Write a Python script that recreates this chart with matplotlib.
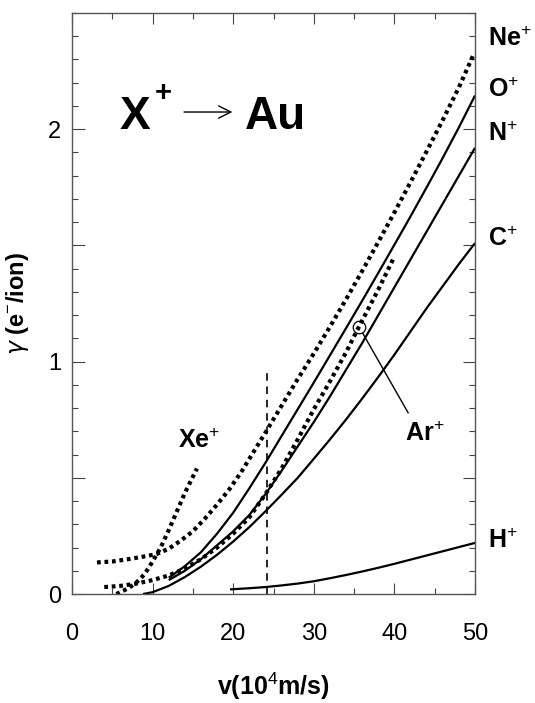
import numpy as np
import matplotlib.pyplot as plt
from matplotlib.ticker import MultipleLocator

plt.rcParams['font.family'] = ['Liberation Sans', 'DejaVu Sans']
plt.rcParams['mathtext.fontset'] = 'custom'
plt.rcParams['mathtext.rm'] = 'Liberation Sans'
plt.rcParams['mathtext.bf'] = 'Liberation Sans:bold'

# solid curves
h_x = [19.6, 22, 24, 26, 28, 30, 32, 34, 36, 38, 40, 42, 44, 46, 48, 50]
h_y = [0.02, 0.025, 0.03, 0.037, 0.045, 0.055, 0.068, 0.082, 0.097, 0.113,
       0.13, 0.148, 0.166, 0.184, 0.202, 0.22]

c_x = [8.8, 10, 12, 14, 16, 18, 20, 22, 24, 26, 28, 30, 32, 34, 36, 38, 40, 42, 44, 46, 48, 50]
c_y = [0.0, 0.008, 0.035, 0.073, 0.118, 0.169, 0.226, 0.288, 0.356, 0.427, 0.50, 0.582,
       0.665, 0.751, 0.841, 0.934, 1.03, 1.13, 1.23, 1.325, 1.42, 1.51]

n_x = [12, 14, 16, 18, 20, 22, 24, 26, 28, 30, 32, 34, 36, 38, 40, 42, 44, 46, 48, 50]
n_y = [0.06, 0.10, 0.15, 0.21, 0.27, 0.34, 0.43, 0.53, 0.635, 0.74, 0.85, 0.965,
       1.08, 1.20, 1.32, 1.44, 1.56, 1.68, 1.80, 1.92]

o_x = [12, 14, 16, 18, 20, 22, 24, 26, 28, 30, 32, 34, 36, 38, 40, 42, 44, 46, 48, 50]
o_y = [0.07, 0.12, 0.18, 0.26, 0.35, 0.455, 0.565, 0.68, 0.795, 0.91, 1.027, 1.144,
       1.262, 1.382, 1.503, 1.625, 1.75, 1.877, 2.008, 2.145]

# dotted curves
ne_x = [3.1, 5, 7, 9, 10.5, 12, 13.5, 15, 16.5, 18, 19.5, 21, 22.5, 24, 26, 28, 30,
        32, 34, 36, 38, 40, 42, 44, 46, 48, 49.8]
ne_y = [0.136, 0.14, 0.15, 0.162, 0.172, 0.195, 0.23, 0.27, 0.325, 0.385, 0.45, 0.525,
        0.61, 0.695, 0.81, 0.925, 1.035, 1.15, 1.268, 1.39, 1.515, 1.642, 1.772, 1.905,
        2.04, 2.18, 2.32]

ar_x = [4, 6, 8, 10, 12, 14, 16, 18, 20, 22, 24, 26, 28, 30, 32, 34, 35.6, 38, 39.9]
ar_y = [0.03, 0.035, 0.045, 0.06, 0.08, 0.11, 0.15, 0.20, 0.26, 0.33, 0.43, 0.54,
        0.665, 0.795, 0.915, 1.04, 1.15, 1.31, 1.445]

xe_x = [5.5, 7, 8, 9, 10, 11, 12, 13, 14, 15, 15.5]
xe_y = [0.0, 0.025, 0.05, 0.085, 0.14, 0.20, 0.275, 0.355, 0.435, 0.505, 0.54]

# right-hand labels: (text, y)
right_labels = [('Ne$^{+}$', 2.39), ('O$^{+}$', 2.17), ('N$^{+}$', 1.98),
                ('C$^{+}$', 1.53), ('H$^{+}$', 0.23)]

vline_x = 24.2
vline_top = 0.96
ar_mark = (35.6, 1.15)

fig = plt.figure(figsize=(5.35, 7.03), dpi=100)
ax = fig.add_axes([0.1346, 0.1550, 0.7533, 0.8265])

solid = dict(color='black', lw=1.6, solid_capstyle='butt')
dots = dict(color='black', lw=3.0, linestyle=(0, (0.9, 0.9)), dash_capstyle='butt')

for xs, ys in [(h_x, h_y), (c_x, c_y), (n_x, n_y), (o_x, o_y)]:
    ax.plot(xs, ys, **solid)
for xs, ys in [(ne_x, ne_y), (ar_x, ar_y), (xe_x, xe_y)]:
    ax.plot(xs, ys, **dots)

ax.plot([vline_x, vline_x], [0, vline_top], color='black', lw=1.2,
        linestyle=(0, (4.5, 3.5)))

# Ar+ marker and pointer
ax.plot([ar_mark[0]], [ar_mark[1]], marker='o', ms=9, mfc='none', mec='black', mew=0.9)
ax.plot([36.1, 41.7], [1.12, 0.78], color='black', lw=1.0)
ax.text(43.8, 0.69, 'Ar$^{+}$', fontsize=18, fontweight='bold', ha='center', va='center')
ax.text(15.8, 0.66, 'Xe$^{+}$', fontsize=18, fontweight='bold', ha='center', va='center')

for lab, yy in right_labels:
    ax.text(51.6, yy, lab, fontsize=18, fontweight='bold', ha='left', va='center',
            clip_on=False)

# title-like annotation
ax.text(5.9, 2.0, 'X', fontsize=33, fontweight='bold', ha='left', va='baseline')
ax.text(11.3, 2.155, '+', fontsize=21, fontweight='bold', ha='center', va='center')
ax.annotate('', xy=(19.9, 2.074), xytext=(13.9, 2.074),
            arrowprops=dict(arrowstyle='->', lw=1.0, color='black',
                            mutation_scale=22, shrinkA=0, shrinkB=0))
ax.text(21.4, 2.0, 'Au', fontsize=33, fontweight='bold', ha='left', va='baseline')

ax.set_xlim(0, 50)
ax.set_ylim(0, 2.5)
ax.xaxis.set_major_locator(MultipleLocator(10))
ax.xaxis.set_minor_locator(MultipleLocator(5))
ax.yaxis.set_minor_locator(MultipleLocator(0.1))
ax.set_yticks([0, 0.5, 1, 1.5, 2])
ax.set_yticklabels(['0', '', '1', '', '2'])
ax.tick_params(which='both', direction='in', top=True, right=True, width=0.8,
               color='#444444')
ax.tick_params(axis='x', which='major', length=8, pad=21, labelsize=17)
ax.tick_params(axis='x', which='minor', length=4)
ax.tick_params(axis='y', which='major', length=9, pad=8, labelsize=17)
ax.tick_params(axis='y', which='minor', length=4)
for s in ax.spines.values():
    s.set_color('#555555')
    s.set_linewidth(1.0)

ax.set_xlabel('v(10$^{4}$m/s)', fontsize=18, fontweight='bold', labelpad=18)
ax.set_ylabel(r'$\gamma$ (e$^{-}$/ion)', fontsize=17, fontweight='bold', labelpad=12)

fig.savefig('out.png', dpi=100)
